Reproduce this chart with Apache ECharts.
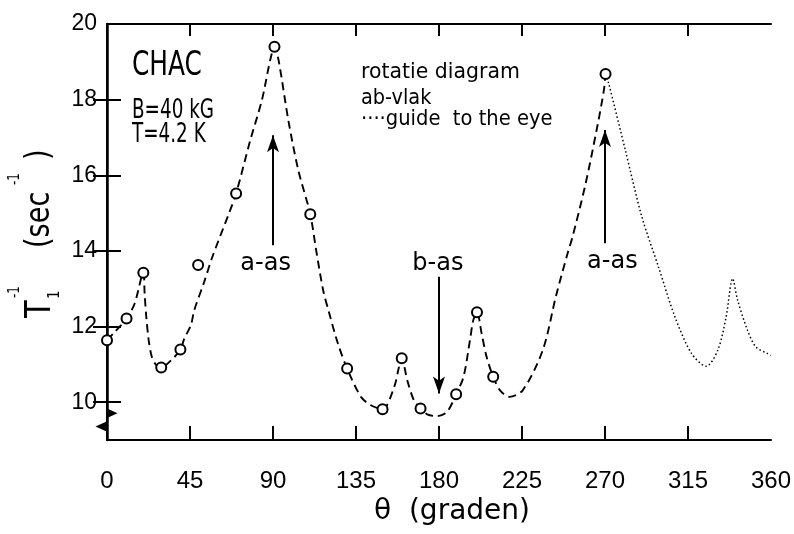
<!DOCTYPE html>
<html>
<head>
<meta charset="utf-8">
<script src="https://cdn.jsdelivr.net/npm/echarts@6/dist/echarts.min.js"></script>
<style>
  html, body { margin: 0; padding: 0; background: #fff; }
  #chart { width: 794px; height: 534px; }
</style>
</head>
<body>
<div id="chart"></div>
<script>
// Measured relaxation rates T1^-1 (sec^-1) versus rotation angle theta (degrees)
const pointTheta = [0, 10.6, 19.7, 29.4, 39.8, 49.4, 70, 90.8, 110.2, 130.2, 149.4, 159.8, 170, 189.3, 200.6, 209.4, 270.3];
const pointRate  = [11.64, 12.21, 13.42, 10.92, 11.39, 13.63, 15.52, 19.40, 14.97, 10.89, 9.81, 11.16, 9.83, 10.21, 12.38, 10.67, 18.68];

// Dashed curve through the measurements
const curveTheta = [0, 4.3, 10.6, 15, 19.7, 20.4, 21.3, 22.6, 24.3, 26.7, 29.4, 34.8, 39.8, 41.9, 45.5, 47.3, 52.7, 57.1,
  66.1, 70, 77.7, 84, 88.5, 90.8, 93, 98.3, 103.7, 110.2, 113.4, 117.2, 120.5, 125.2, 130.2, 137.7, 143.1, 149.4, 155.7, 158.3,
  159.8, 162.8, 166.4, 170, 173.6, 178.9, 184.3, 189.3, 193.3, 196.8, 198.6, 200.6, 203.1, 205.8, 209.4, 213, 218.3,
  225.5, 236.3, 243.4, 249.7, 252.4, 259.5, 265.8, 269.4, 270.3];
const curveRate = [11.64, 11.86, 12.21, 12.61, 13.42, 12.87, 12.26, 11.64, 11.2, 10.98, 10.92, 11.11, 11.39, 11.68, 12.04, 12.43, 13.18, 13.84,
  14.99, 15.52, 16.93, 17.99, 19.05, 19.40, 19.05, 17.46, 16.14, 14.97, 14.02, 12.96, 12.35, 11.55, 10.89, 10.14, 9.92, 9.81, 10.40, 10.93,
  11.16, 10.58, 10.05, 9.83, 9.68, 9.63, 9.74, 10.21, 10.67, 11.64, 12.17, 12.38, 11.82, 11.2, 10.67, 10.32, 10.14,
  10.32, 11.38, 12.80, 13.93, 14.37, 15.78, 17.28, 18.25, 18.68];

// Dotted "guide to the eye" continuation
const guideTheta = [270.3, 272, 281, 290, 299, 307.9, 316.9, 324.9, 331.2, 335.7, 339.2, 341.9, 347.3, 351.8, 358, 360];
const guideRate  = [18.68, 18.43, 16.67, 14.90, 13.58, 12.26, 11.29, 10.95, 11.38, 12.26, 13.27, 12.70, 11.90, 11.46, 11.29, 11.24];

// Crystal axis arrows
const arrowTheta  = [90, 180, 270];
const arrowFrom   = [14.15, 13.32, 14.2];
const arrowTo     = [17.06, 10.23, 17.2];
const arrowLabels = ['a-as', 'b-as', 'a-as'];
const labelTheta  = [86, 179.4, 274];
const labelRate   = [13.65, 13.65, 13.70];

// Marks on the rate axis
const breakRate = [9.71, 9.36];

// Axis ticks and labels
const xTicks  = [45, 90, 135, 180, 225, 270, 315];
const xLabels = [0, 45, 90, 135, 180, 225, 270, 315, 360];
const yTicks  = [10, 12, 14, 16, 18];
const yLabels = [10, 12, 14, 16, 18, 20];

const SANS = '"DejaVu Sans", sans-serif';
const TICKFONT = '"Liberation Sans", Arial, sans-serif';
const INK = '#000';

const chart = echarts.init(document.getElementById('chart'), null, { renderer: 'canvas' });

function pairs(xs, ys) { return xs.map((x, i) => [x, ys[i]]); }

// Condensed lettering: horizontal squeeze of a regular face
function txt(text, x, y, size, squeeze, extra) {
  return Object.assign({
    type: 'text', x: x, y: y, scaleX: squeeze, silent: true,
    style: {
      text: text, font: size + 'px ' + SANS, fill: INK,
      align: 'left', textAlign: 'left', verticalAlign: 'middle', textVerticalAlign: 'middle'
    }
  }, extra || {});
}
// Rotated (bottom-to-top) text whose baseline sits at screen x = baselineX
function vtxt(text, baselineX, startY, size, squeeze) {
  return txt(text, baselineX - 0.35 * size, startY, size, squeeze, { rotation: Math.PI / 2 });
}

const axisCommon = {
  type: 'value', min: 0, max: 360,
  axisLine: { show: true, lineStyle: { color: INK, width: 2 } },
  splitLine: { show: false }
};

const option = {
  backgroundColor: '#fff',
  animation: false,
  grid: { left: 107, right: 17, top: 24, bottom: 94, containLabel: false },
  xAxis: [
    Object.assign({}, axisCommon, {
      position: 'bottom',
      axisTick: { show: true, inside: true, length: 14, customValues: xTicks, lineStyle: { color: INK, width: 2 } },
      axisLabel: { show: true, customValues: xLabels, margin: 29, color: INK, fontSize: 24, fontFamily: TICKFONT }
    }),
    Object.assign({}, axisCommon, {
      position: 'top',
      axisTick: { show: true, inside: true, length: 12, customValues: xTicks, lineStyle: { color: INK, width: 2 } },
      axisLabel: { show: false }
    })
  ],
  yAxis: [
    {
      type: 'value', min: 9, max: 20, position: 'left',
      axisLine: { show: true, lineStyle: { color: INK, width: 2 } },
      splitLine: { show: false },
      axisTick: { show: true, inside: true, length: 14, customValues: yTicks, lineStyle: { color: INK, width: 2 } },
      axisLabel: { show: true, customValues: yLabels, margin: 10, color: INK, fontSize: 23, fontFamily: TICKFONT }
    },
    {
      type: 'value', min: 9, max: 20, position: 'right',
      axisLine: { show: true, lineStyle: { color: INK, width: 2.5 } },
      splitLine: { show: false },
      axisTick: { show: true, inside: true, length: 14, customValues: yTicks, lineStyle: { color: INK, width: 2 } },
      axisLabel: { show: false }
    }
  ],
  series: [
    {
      name: 'curve', type: 'line', data: pairs(curveTheta, curveRate),
      showSymbol: false, smooth: 0.3, silent: true,
      lineStyle: { color: INK, width: 1.9, type: [8, 5] }, z: 2
    },
    {
      name: 'guide', type: 'line', data: pairs(guideTheta, guideRate),
      showSymbol: false, smooth: 0.3, silent: true,
      lineStyle: { color: INK, width: 1.5, type: [1.5, 2.5] }, z: 2
    },
    {
      name: 'meting', type: 'scatter', data: pairs(pointTheta, pointRate),
      symbol: 'circle', symbolSize: 10,
      itemStyle: { color: '#fff', borderColor: INK, borderWidth: 2, opacity: 1 }, z: 4,
      markLine: {
        silent: true, animation: false,
        symbol: ['none', 'arrow'], symbolSize: [9, 17],
        label: { show: false },
        lineStyle: { color: INK, width: 2, type: 'solid', opacity: 1 },
        data: arrowTheta.map((t, i) => [{ coord: [t, arrowFrom[i]] }, { coord: [t, arrowTo[i]] }])
      }
    },
    {
      name: 'assen', type: 'scatter', silent: true,
      data: labelTheta.map((t, i) => ({ value: [t, labelRate[i]], name: arrowLabels[i] })),
      symbolSize: 0, itemStyle: { opacity: 1 },
      label: { show: true, position: 'inside', formatter: p => p.name, color: INK, fontSize: 24, fontFamily: SANS }
    },
    {
      name: 'breuk', type: 'scatter', silent: true, z: 5,
      data: [
        { value: [0, breakRate[0]], symbolRotate: -90, symbolOffset: [5, 0] },
        { value: [0, breakRate[1]], symbolRotate: 90, symbolOffset: [-6, 0] }
      ],
      symbol: 'triangle', symbolSize: [10, 11],
      itemStyle: { color: INK, opacity: 1 }
    }
  ],
  graphic: {
    elements: [
      txt('CHAC', 132, 66, 34, 0.73),
      txt('B=40 kG', 132, 111, 27, 0.68),
      txt('T=4.2 K', 132, 135, 27, 0.68),
      txt('rotatie diagram', 361, 72, 22, 0.93),
      txt('ab-vlak', 361, 99, 21, 0.92),
      txt('····guide  to the eye', 361, 120, 21, 0.93),
      txt('θ  (graden)', 374, 512, 28, 1),
      vtxt('T', 53, 318, 36, 0.8),
      vtxt('1', 60, 299, 15, 0.9),
      vtxt('-1', 20, 298, 15, 0.8),
      vtxt('(sec', 52, 248, 34, 0.8),
      vtxt('-1', 20, 185, 15, 0.8),
      vtxt(')', 52, 160, 34, 0.8)
    ]
  }
};

chart.setOption(option);
</script>
</body>
</html>
